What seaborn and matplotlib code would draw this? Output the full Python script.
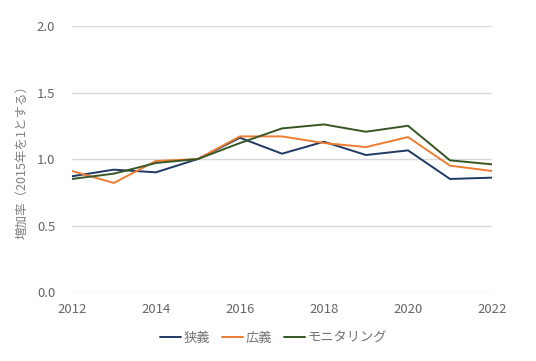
import pandas as pd
import matplotlib.pyplot as plt
import seaborn as sns

# 年ごとの増加率（2015年を1とする）
years = [2012, 2013, 2014, 2015, 2016, 2017, 2018, 2019, 2020, 2021, 2022]
narrow = [0.87, 0.92, 0.90, 1.00, 1.16, 1.04, 1.13, 1.03, 1.065, 0.85, 0.86]
broad = [0.91, 0.82, 0.985, 1.00, 1.17, 1.17, 1.12, 1.09, 1.165, 0.95, 0.91]
monitoring = [0.85, 0.89, 0.97, 1.00, 1.12, 1.23, 1.26, 1.205, 1.25, 0.99, 0.96]
series_names = ["狭義", "広義", "モニタリング"]
colors = ["#1F3864", "#ED7D31", "#375623"]

df = pd.DataFrame({"year": years, "狭義": narrow, "広義": broad, "モニタリング": monitoring})
long_df = df.melt(id_vars="year", var_name="系列", value_name="増加率")

sns.set_style("white")
plt.rcParams["font.family"] = ["Noto Sans CJK JP", "DejaVu Sans"]

fig, ax = plt.subplots(figsize=(5.36, 3.61), dpi=100)
fig.subplots_adjust(left=0.134, right=0.918, top=0.928, bottom=0.191)

sns.lineplot(data=long_df, x="year", y="増加率", hue="系列", hue_order=series_names,
             palette=colors, linewidth=1.4, ax=ax)

ax.set_xlim(2012, 2022)
ax.set_ylim(0, 2.0)
ax.set_xticks(range(2012, 2023, 2))
ax.set_yticks([0.0, 0.5, 1.0, 1.5, 2.0])
ax.set_yticklabels(["0.0", "0.5", "1.0", "1.5", "2.0"])
ax.yaxis.grid(True, color="#D9D9D9", linewidth=1)
ax.set_axisbelow(True)
for s in ax.spines.values():
    s.set_visible(False)
ax.tick_params(axis="both", length=0, labelsize=9.5, labelcolor="#666666")
ax.tick_params(axis="x", pad=8)
ax.tick_params(axis="y", pad=12)
ax.set_xlabel("")
ax.set_ylabel("増加率（2015年を1とする）", fontsize=9, color="#808080", labelpad=6)

ax.legend(loc="upper center", bbox_to_anchor=(0.48, -0.105), ncol=3, frameon=False,
          fontsize=9.5, labelcolor="#737373", handlelength=1.6, handletextpad=0.2,
          columnspacing=0.9)

fig.savefig("out.png", dpi=100)
